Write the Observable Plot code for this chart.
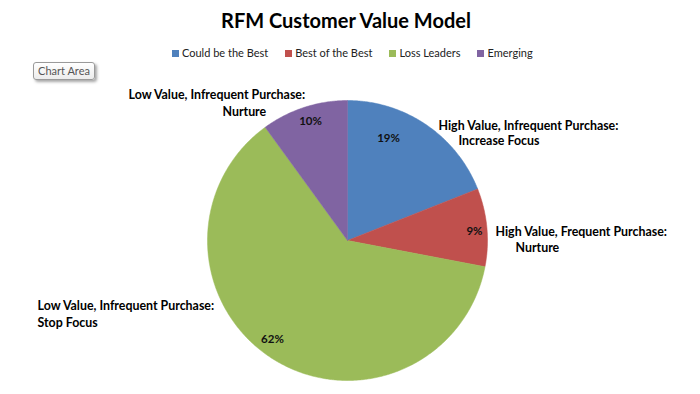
<!DOCTYPE html>
<html><head><meta charset="utf-8">
<script src="https://cdn.jsdelivr.net/npm/d3@7"></script>
<script src="https://cdn.jsdelivr.net/npm/@observablehq/plot@0.6"></script>
<style>
body{margin:0;background:#fff;font-family:Lato,"Open Sans",sans-serif;}
#wrap{position:relative;width:700px;height:394px;overflow:hidden;background:#fff}
#head{position:relative;height:70px}
#title{position:absolute;top:7px;left:0;width:692px;text-align:center;font-weight:bold;font-size:20px;line-height:26px;color:#000}
#legend{position:absolute;top:46px;left:172px;font-size:11px;line-height:14px;color:#222;display:flex;white-space:nowrap}
#legend .it{display:flex;align-items:center;margin-right:17px}
#legend .sw{width:7px;height:7px;margin-right:3px}
#ca{position:absolute;left:33px;top:62px;width:60px;height:16px;border:1px solid #9a9a9a;border-radius:3px;
 background:linear-gradient(#fff,#ececec);box-shadow:2px 2px 3px rgba(0,0,0,0.35);font-size:11px;line-height:16px;text-align:center;color:#555}
</style></head>
<body><div id="wrap"><div id="head"><div id="title">RFM Customer Value Model</div><div id="legend"></div></div><div id="ca">Chart Area</div><div id="chart"></div></div>
<script>
const categories = ["Could be the Best","Best of the Best","Loss Leaders","Emerging"];
const shares = [19, 9, 62, 10];
const colors = ["#4F81BD","#C0504D","#9BBB59","#8064A2"];
const segmentLine1 = ["High Value, Infrequent Purchase:","High Value, Frequent Purchase:","Low Value, Infrequent Purchase:","Low Value, Infrequent Purchase:"];
const segmentLine2 = ["Increase Focus","Nurture","Stop Focus","Nurture"];

// label layout (in pie-radius units, relative to pie centre)
const pctPos = [[0.293,0.729],[0.907,0.064],[-0.536,-0.707],[-0.264,0.85]];
const line1Pos = [[0.65,0.821],[1.057,0.057],[-2.214,-0.471],[-1.564,1.036]];
const line2Pos = [[0.793,0.707],[1.2,-0.057],[-2.214,-0.586],[-0.893,0.921]];

// legend
const leg = d3.select("#legend");
categories.forEach((c,i)=>{
  const it = leg.append("div").attr("class","it");
  it.append("div").attr("class","sw").style("background",colors[i]);
  it.append("span").text(c);
});

// slice polygons from shares
const total = d3.sum(shares);
const pts = [];
let acc = 0;
shares.forEach((s,i)=>{
  const a0 = acc/total*2*Math.PI, a1 = (acc+s)/total*2*Math.PI;
  acc += s;
  pts.push({cat:categories[i],x:0,y:0});
  const n = Math.max(2, Math.ceil((a1-a0)/(Math.PI/360)));
  for(let k=0;k<=n;k++){const a=a0+(a1-a0)*k/n; pts.push({cat:categories[i],x:Math.sin(a),y:Math.cos(a)});}
  pts.push({cat:categories[i],x:0,y:0});
});

const pct = shares.map((s,i)=>({t:Math.round(s/total*100)+"%",x:pctPos[i][0],y:pctPos[i][1]}));
const l1 = segmentLine1.map((t,i)=>({t,x:line1Pos[i][0],y:line1Pos[i][1]}));
const l2 = segmentLine2.map((t,i)=>({t,x:line2Pos[i][0],y:line2Pos[i][1]}));

const W=700,H=324,cx=347,cy=170,R=140;
const plot = Plot.plot({
  width:W,height:H,margin:0,
  style:{fontFamily:"Lato, 'Open Sans', sans-serif",background:"transparent"},
  x:{domain:[-cx/R,(W-cx)/R],axis:null},
  y:{domain:[-(H-cy)/R,cy/R],axis:null},
  color:{domain:categories,range:colors},
  marks:[
    Plot.line(pts,{x:"x",y:"y",z:"cat",fill:"cat",stroke:"cat",strokeWidth:0.5,curve:"linear"}),
    Plot.text(pct,{x:"x",y:"y",text:"t",fontSize:11.5,fontWeight:"bold",fill:"#111"}),
    Plot.text(l1,{x:"x",y:"y",text:"t",fontSize:12.4,fontWeight:"bold",textAnchor:"start",fill:"#000"}),
    Plot.text(l2,{x:"x",y:"y",text:"t",fontSize:12.4,fontWeight:"bold",textAnchor:"start",fill:"#000"})
  ]
});
document.getElementById("chart").appendChild(plot);
</script></body></html>
